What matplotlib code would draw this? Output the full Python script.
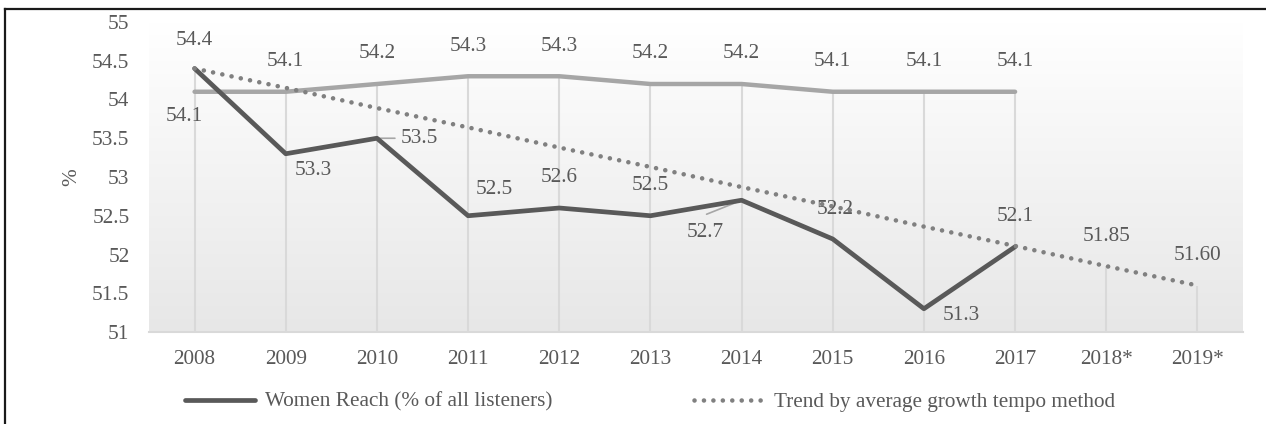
import matplotlib
matplotlib.use('Agg')
import matplotlib.pyplot as plt
import numpy as np
from matplotlib.lines import Line2D
from matplotlib.colors import LinearSegmentedColormap

# ---------------- data ----------------
years = ['2008', '2009', '2010', '2011', '2012', '2013', '2014', '2015',
         '2016', '2017', '2018*', '2019*']
women_reach = [54.4, 53.3, 53.5, 52.5, 52.6, 52.5, 52.7, 52.2, 51.3, 52.1]
second_series = [54.1, 54.1, 54.2, 54.3, 54.3, 54.2, 54.2, 54.1, 54.1, 54.1]
trend = [54.40, 54.15, 53.89, 53.64, 53.38, 53.13, 52.87, 52.62, 52.36,
         52.11, 51.85, 51.60]
trend_label_text = ['', '', '', '', '', '', '', '', '', '', '51.85', '51.60']
y_ticks = [51, 51.5, 52, 52.5, 53, 53.5, 54, 54.5, 55]
y_tick_labels = ['51', '51.5', '52', '52.5', '53', '53.5', '54', '54.5', '55']
legend_women = 'Women Reach (% of all listeners)'
legend_trend = 'Trend by average growth tempo method'

# ---------------- style ----------------
FONT = 'Liberation Serif'
FS = 15.3
TXT = '#595959'
plt.rcParams['font.family'] = [FONT, 'DejaVu Serif']

W, H = 1266, 424
fig = plt.figure(figsize=(W / 100, H / 100), dpi=100)

ax_rect = [149 / W, 1 - 332 / H, (1243 - 149) / W, (332 - 22) / H]

# gradient background of plot area
bg = fig.add_axes(ax_rect, zorder=0)
cmap = LinearSegmentedColormap.from_list('g', ['#ffffff', '#e7e7e7'])
bg.imshow(np.linspace(0, 1, 256).reshape(-1, 1), cmap=cmap, aspect='auto',
          extent=[0, 1, 0, 1])
bg.set_axis_off()

ax = fig.add_axes(ax_rect, zorder=1)
ax.set_facecolor('none')

x = np.arange(len(years))
xw = x[:len(women_reach)]

# drop lines from highest series point to axis
tops = []
for i in range(len(years)):
    vals = [trend[i]]
    if i < len(women_reach):
        vals += [women_reach[i], second_series[i]]
    tops.append(max(vals))
ax.vlines(x, 51, tops, color='#d9d9d9', lw=1.5, zorder=1)

DOT = (0, (0.01, 2.05))
ax.plot(xw, second_series, color='#a6a6a6', lw=3.2, solid_capstyle='round',
        solid_joinstyle='round', zorder=3)
ax.plot(xw, women_reach, color='#595959', lw=3.4, solid_capstyle='round',
        solid_joinstyle='round', zorder=4)
ax.plot(x, trend, color='#808080', lw=3.3, linestyle=DOT,
        dash_capstyle='round', zorder=5)

ax.set_xlim(-0.5, len(years) - 0.5)
ax.set_ylim(51, 55)
ax.set_xticks(x)
ax.set_xticklabels(years)
ax.set_yticks(y_ticks)
ax.set_yticklabels(y_tick_labels)
ax.tick_params(axis='both', length=0, labelsize=FS, labelcolor=TXT)
ax.tick_params(axis='y', pad=14)
ax.tick_params(axis='x', pad=13)
for s in ['top', 'right', 'left']:
    ax.spines[s].set_visible(False)
ax.spines['bottom'].set_color('#d9d9d9')
ax.spines['bottom'].set_linewidth(1.5)

# data labels (offsets in pixels)
women_off = [(0, 28), (28, -17), (42, 0), (26, 26), (0, 30), (0, 30),
             (-36, -32), (2, 29), (37, -7), (0, 30)]
for i, (v, off) in enumerate(zip(women_reach, women_off)):
    ax.annotate(f'{v:.1f}', (xw[i], v), xytext=off, textcoords='offset pixels',
                ha='center', va='center', fontsize=FS, color=TXT, zorder=6)
# leader lines
ax.annotate('', (xw[2], women_reach[2]), xytext=(18, 0),
            textcoords='offset pixels',
            arrowprops=dict(arrowstyle='-', color='#a6a6a6', lw=1.2,
                            shrinkA=0, shrinkB=0))
ax.annotate('', (xw[6], women_reach[6]), xytext=(-35, -14),
            textcoords='offset pixels',
            arrowprops=dict(arrowstyle='-', color='#a6a6a6', lw=1.2,
                            shrinkA=0, shrinkB=3))

second_off = [(-10, -25)] + [(0, 30)] * (len(second_series) - 1)
for i, (v, off) in enumerate(zip(second_series, second_off)):
    ax.annotate(f'{v:.1f}', (xw[i], v), xytext=off, textcoords='offset pixels',
                ha='center', va='center', fontsize=FS, color=TXT, zorder=6)

for i, (v, t) in enumerate(zip(trend, trend_label_text)):
    if t:
        ax.annotate(t, (x[i], v), xytext=(0, 30), textcoords='offset pixels',
                    ha='center', va='center', fontsize=FS, color=TXT, zorder=6)

# y axis title
fig.text(72 / W, 1 - 177 / H, '%', rotation=90, ha='center', va='center',
         fontsize=FS, color=TXT)

# legend
h1 = Line2D([], [], color='#595959', lw=3.4, solid_capstyle='round')
h2 = Line2D([], [], color='#808080', lw=3.3, linestyle=DOT,
            dash_capstyle='round')
leg = fig.legend([h1, h2], [legend_women, legend_trend], ncol=2,
                 loc='center left', bbox_to_anchor=(185 / W, 1 - 402 / H),
                 frameon=False, fontsize=FS, handlelength=3.3,
                 handletextpad=0.45, columnspacing=6.7, borderpad=0,
                 borderaxespad=0)
for t in leg.get_texts():
    t.set_color(TXT)

# outer border (left and top edges visible)
fig.add_artist(Line2D([5 / W, 5 / W], [0, 1 - 9 / H], color='#1a1a1a', lw=1.6,
                      transform=fig.transFigure))
fig.add_artist(Line2D([5 / W, 1], [1 - 9 / H, 1 - 9 / H], color='#1a1a1a',
                      lw=1.6, transform=fig.transFigure))

fig.savefig('out.png', dpi=100)
